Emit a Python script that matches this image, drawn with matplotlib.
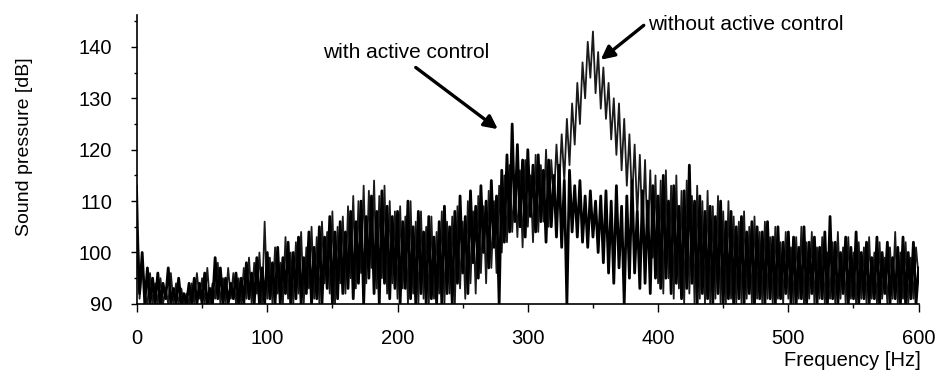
import numpy as np
import matplotlib
matplotlib.use('Agg')
import matplotlib.pyplot as plt

plt.rcParams['font.family'] = ['Liberation Sans', 'DejaVu Sans']

# frequency axis, 2 Hz steps
freq = np.arange(0, 601, 2)

# sound pressure with active control [dB]
p_with = [
    104, 92, 100, 90, 97, 90, 95, 90, 96, 90, 94, 91, 97, 90, 93, 90, 95, 90, 92, 90,
    94, 90, 95, 90, 94, 90, 96, 90, 93, 90, 99, 91, 97, 90, 95, 90, 94, 91, 96, 90,
    95, 90, 98, 91, 96, 90, 99, 90, 97, 90, 100, 91, 98, 90, 101, 90, 99, 92, 102, 90,
    100, 91, 103, 90, 99, 92, 104, 90, 101, 91, 105, 90, 103, 93, 107, 90, 104, 91, 106, 92,
    104, 93, 108, 91, 106, 94, 110, 90, 107, 95, 111, 92, 108, 90, 112, 94, 109, 91, 107, 93,
    108, 90, 106, 93, 110, 91, 105, 90, 108, 92, 104, 90, 107, 91, 103, 90, 106, 90, 109, 92,
    105, 90, 108, 94, 111, 96, 107, 92, 112, 98, 109, 95, 113, 100, 110, 97, 114, 101, 111, 90,
    116, 102, 119, 104, 125, 106, 121, 105, 118, 103, 120, 107, 117, 104, 119, 106, 116, 102, 118, 105,
    115, 103, 117, 101, 114, 90, 116, 104, 113, 103, 114, 102, 111, 101, 112, 103, 110, 100, 111, 98,
    112, 96, 110, 94, 113, 97, 109, 90, 111, 95, 114, 96, 108, 93, 112, 94, 110, 92, 113, 95,
    111, 93, 115, 95, 110, 92, 113, 94, 109, 91, 112, 93, 117, 94, 110, 90, 111, 92, 108, 91,
    109, 90, 107, 92, 110, 90, 106, 91, 108, 90, 105, 91, 107, 90, 104, 92, 106, 90, 105, 91,
    104, 90, 106, 91, 103, 90, 105, 91, 102, 92, 104, 90, 103, 90, 101, 91, 105, 90, 102, 92,
    103, 90, 101, 91, 104, 90, 107, 91, 102, 90, 100, 92, 103, 90, 101, 91, 104, 90, 100, 91,
    102, 90, 99, 91, 103, 90, 100, 92, 102, 90, 99, 91, 101, 90, 103, 90, 100, 91, 102, 90,
    97,
]

# sound pressure without active control [dB]
p_without = [
    113, 91, 98, 92, 90, 96, 90, 94, 90, 95, 90, 93, 90, 96, 90, 94, 90, 93, 90, 92,
    90, 94, 90, 96, 91, 95, 90, 97, 90, 94, 91, 98, 90, 95, 90, 97, 91, 96, 90, 95,
    90, 97, 91, 99, 90, 98, 92, 100, 90, 106, 91, 99, 90, 101, 92, 98, 90, 103, 91, 100,
    90, 102, 92, 104, 90, 101, 93, 105, 91, 103, 90, 106, 94, 104, 92, 108, 90, 105, 94, 107,
    92, 109, 95, 111, 93, 110, 96, 113, 94, 112, 97, 114, 93, 111, 95, 113, 92, 110, 94, 108,
    91, 109, 93, 107, 90, 110, 92, 106, 90, 108, 91, 105, 90, 107, 91, 104, 92, 108, 90, 106,
    92, 107, 90, 109, 93, 106, 91, 110, 94, 108, 92, 111, 96, 109, 94, 112, 97, 110, 96, 113,
    100, 115, 102, 117, 104, 114, 103, 116, 101, 118, 105, 115, 102, 119, 104, 117, 106, 120, 105, 118,
    110, 121, 112, 123, 114, 126, 117, 129, 121, 133, 125, 137, 130, 141, 134, 143, 131, 139, 128, 136,
    126, 133, 122, 130, 119, 129, 116, 126, 113, 123, 110, 121, 107, 119, 104, 118, 101, 116, 99, 115,
    94, 114, 92, 116, 95, 113, 91, 115, 93, 112, 90, 114, 92, 111, 90, 113, 91, 110, 90, 112,
    90, 109, 91, 111, 90, 108, 90, 110, 91, 107, 90, 106, 90, 108, 91, 105, 90, 107, 91, 104,
    90, 106, 91, 103, 90, 105, 91, 102, 90, 104, 91, 101, 90, 103, 91, 105, 90, 102, 91, 104,
    90, 101, 91, 103, 90, 100, 91, 102, 90, 104, 91, 101, 90, 103, 91, 100, 90, 102, 91, 101,
    90, 103, 91, 100, 90, 102, 91, 99, 90, 101, 91, 104, 90, 100, 91, 102, 90, 99, 91, 101,
    95,
]

fig = plt.figure(figsize=(9.35, 3.77), dpi=100)
ax = fig.add_axes([0.1465, 0.194, 0.836, 0.766])

ax.plot(freq, p_without, color='#1a1a1a', lw=1.3)
ax.plot(freq, p_with, color='black', lw=2.0)

ax.set_xlim(0, 600)
ax.set_ylim(90, 146.2)
ax.set_xticks(np.arange(0, 601, 100))
ax.set_xticks(np.arange(50, 600, 100), minor=True)
ax.set_yticks(np.arange(90, 141, 10))
ax.set_yticks(np.arange(95, 146, 10), minor=True)

for side in ['top', 'right']:
    ax.spines[side].set_visible(False)
ax.spines['left'].set_linewidth(1.2)
ax.spines['bottom'].set_linewidth(1.2)

ax.tick_params(axis='x', which='major', length=6, width=1, pad=12, labelsize=14.5)
ax.tick_params(axis='x', which='minor', length=3, width=1)
ax.tick_params(axis='y', which='major', length=4, width=1, pad=14, labelsize=14.5)
ax.tick_params(axis='y', which='minor', length=2, width=1)

fig.text(0.026, 0.61, 'Sound pressure [dB]', rotation=90, ha='center', va='center', fontsize=14)
fig.text(0.985, 0.045, 'Frequency [Hz]', ha='right', va='center', fontsize=14.5)

arrow = dict(arrowstyle='-|>', lw=2.4, color='black', mutation_scale=20, shrinkA=0, shrinkB=0)
ax.text(143, 139, 'with active control', fontsize=15, ha='left', va='center')
ax.annotate('', xy=(277, 124), xytext=(214, 136), arrowprops=arrow)
ax.text(392, 144.3, 'without active control', fontsize=15, ha='left', va='center')
ax.annotate('', xy=(356, 137.5), xytext=(389, 144.2), arrowprops=arrow)

fig.savefig('out.png', dpi=100)
